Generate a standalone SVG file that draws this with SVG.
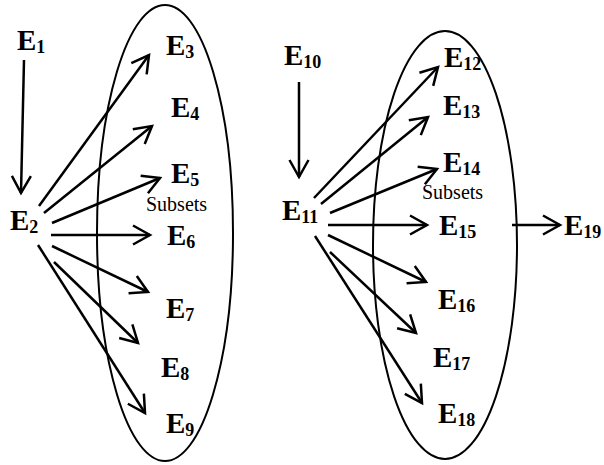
<svg xmlns="http://www.w3.org/2000/svg" width="604" height="465" viewBox="0 0 604 465">
<style>
.lbl{font-family:"Liberation Serif","Times New Roman",serif;font-weight:bold;font-size:29px;fill:#000}
.sub{font-size:18px}
.sset{font-family:"Liberation Serif","Times New Roman",serif;font-size:20px;fill:#000}
.set{fill:none;stroke:#000;stroke-width:2}
.arr{fill:none;stroke:#000;stroke-width:2.5;marker-end:url(#ah)}
</style>
<defs>
<marker id="ah" viewBox="-22 -12 26 24" markerWidth="26" markerHeight="24" refX="0" refY="0" orient="auto" markerUnits="userSpaceOnUse">
<path d="M-17,-9.5 L0,0 L-17,9.5" fill="none" stroke="#000" stroke-width="2.5"/>
</marker>
</defs>
<rect width="604" height="465" fill="#fff"/>
<g id="set-left"><ellipse class="set" cx="165" cy="233" rx="68" ry="228"/><text class="sset" x="146" y="211">Subsets</text></g>
<g id="set-right"><ellipse class="set" cx="445" cy="245" rx="72" ry="214"/><text class="sset" x="422" y="199">Subsets</text></g>
<g id="connectors">
<line class="arr" x1="24" y1="60" x2="21" y2="193"/>
<line class="arr" x1="39" y1="206" x2="149" y2="55"/>
<line class="arr" x1="44" y1="213" x2="152" y2="126"/>
<line class="arr" x1="52" y1="223" x2="160" y2="178"/>
<line class="arr" x1="51" y1="235" x2="150" y2="235"/>
<line class="arr" x1="52" y1="246" x2="148" y2="292"/>
<line class="arr" x1="54" y1="262" x2="138" y2="343"/>
<line class="arr" x1="38" y1="245" x2="145" y2="413"/>
<line class="arr" x1="299" y1="82" x2="299" y2="177"/>
<line class="arr" x1="314" y1="198" x2="438" y2="67"/>
<line class="arr" x1="321" y1="204" x2="428" y2="117"/>
<line class="arr" x1="330" y1="213" x2="437" y2="169"/>
<line class="arr" x1="328" y1="225" x2="427" y2="225"/>
<line class="arr" x1="512" y1="225" x2="560" y2="225"/>
<line class="arr" x1="328" y1="235" x2="426" y2="282"/>
<line class="arr" x1="330" y1="252" x2="416" y2="333"/>
<line class="arr" x1="315" y1="236" x2="422" y2="403"/>
</g>
<g id="E1"><text class="lbl" x="17" y="50">E<tspan class="sub" dy="3">1</tspan></text></g>
<g id="E2"><text class="lbl" x="10" y="230">E<tspan class="sub" dy="3">2</tspan></text></g>
<g id="E3"><text class="lbl" x="166" y="55">E<tspan class="sub" dy="3">3</tspan></text></g>
<g id="E4"><text class="lbl" x="171" y="117">E<tspan class="sub" dy="3">4</tspan></text></g>
<g id="E5"><text class="lbl" x="171" y="183">E<tspan class="sub" dy="3">5</tspan></text></g>
<g id="E6"><text class="lbl" x="167" y="245">E<tspan class="sub" dy="3">6</tspan></text></g>
<g id="E7"><text class="lbl" x="166" y="318">E<tspan class="sub" dy="3">7</tspan></text></g>
<g id="E8"><text class="lbl" x="161" y="377">E<tspan class="sub" dy="3">8</tspan></text></g>
<g id="E9"><text class="lbl" x="166" y="433">E<tspan class="sub" dy="3">9</tspan></text></g>
<g id="E10"><text class="lbl" x="284" y="65">E<tspan class="sub" dy="3">10</tspan></text></g>
<g id="E11"><text class="lbl" x="282" y="220">E<tspan class="sub" dy="3">11</tspan></text></g>
<g id="E12"><text class="lbl" x="444" y="67">E<tspan class="sub" dy="3">12</tspan></text></g>
<g id="E13"><text class="lbl" x="443" y="115">E<tspan class="sub" dy="3">13</tspan></text></g>
<g id="E14"><text class="lbl" x="443" y="172">E<tspan class="sub" dy="3">14</tspan></text></g>
<g id="E15"><text class="lbl" x="439" y="235">E<tspan class="sub" dy="3">15</tspan></text></g>
<g id="E16"><text class="lbl" x="438" y="309">E<tspan class="sub" dy="3">16</tspan></text></g>
<g id="E17"><text class="lbl" x="433" y="367">E<tspan class="sub" dy="3">17</tspan></text></g>
<g id="E18"><text class="lbl" x="438" y="423">E<tspan class="sub" dy="3">18</tspan></text></g>
<g id="E19"><text class="lbl" x="564" y="235">E<tspan class="sub" dy="3">19</tspan></text></g>
</svg>
